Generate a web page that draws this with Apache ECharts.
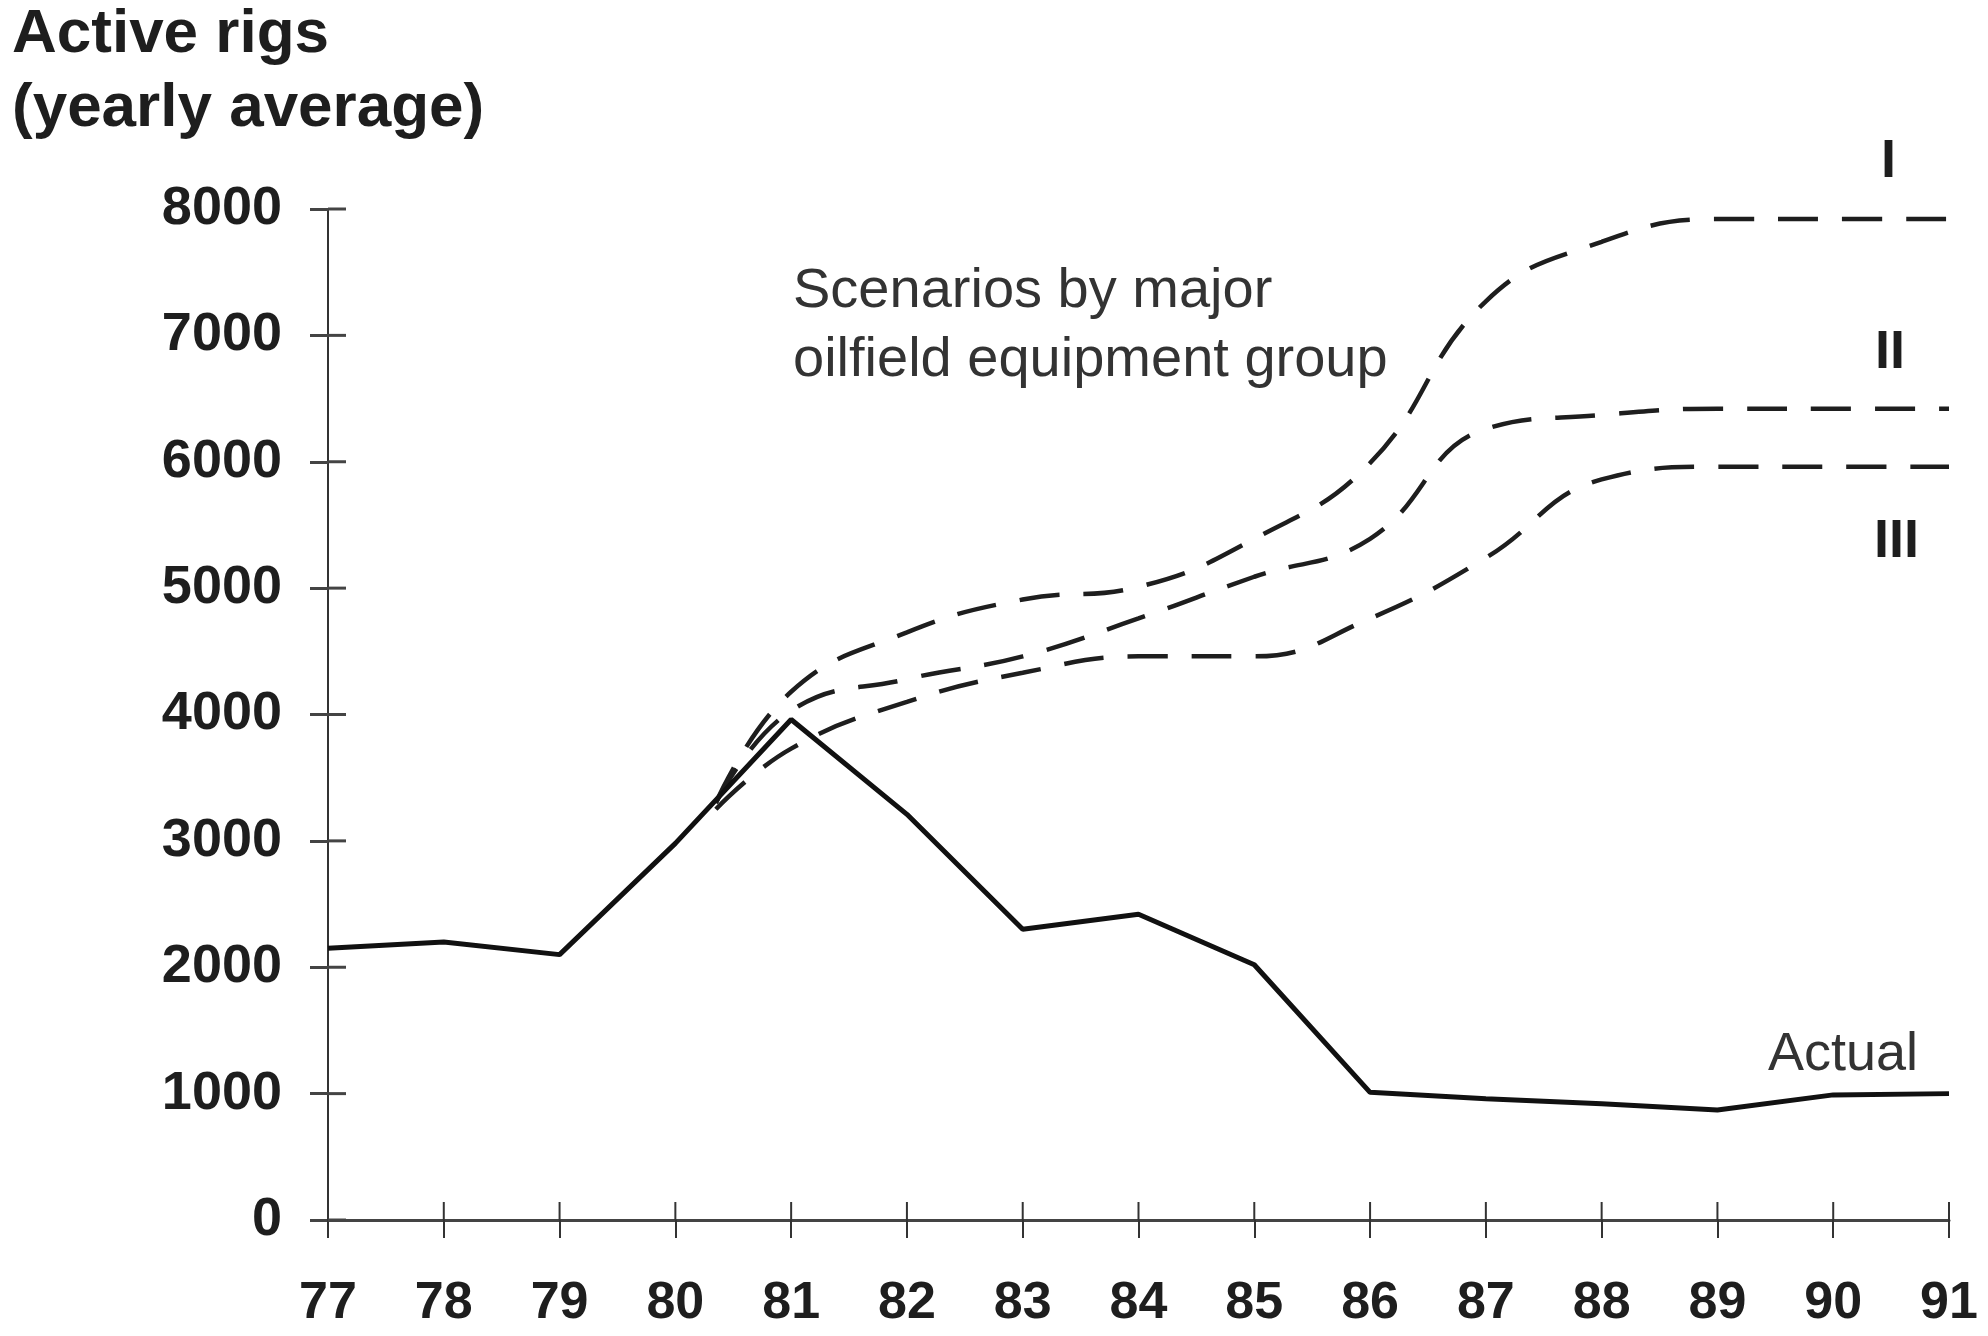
<!DOCTYPE html>
<html>
<head>
<meta charset="utf-8">
<title>Active rigs</title>
<script src="https://cdn.jsdelivr.net/npm/echarts@6/dist/echarts.min.js"></script>
<style>
  html, body { margin: 0; padding: 0; background: #fff; }
  #main { width: 1988px; height: 1336px; }
</style>
</head>
<body>
<div id="main"></div>
<script>
// 年份（横轴）
var years = [77, 78, 79, 80, 81, 82, 83, 84, 85, 86, 87, 88, 89, 90, 91]
// 实际钻机数
var actual = [2150, 2200, 2100, 2980, 3960, 3210, 2300, 2420, 2020, 1010, 960, 920, 870, 990, 1000]

// 三种情景，从 80 年附近的分叉点开始
var scenarioYears = [80.35, 81, 82, 83, 84, 85, 86, 87, 88, 89, 90, 91]
var scenario1 = [3300, 4180, 4650, 4910, 5010, 5390, 5990, 7270, 7740, 7920, 7920, 7920]
var scenario2 = [3300, 4030, 4280, 4460, 4760, 5090, 5390, 6260, 6370, 6420, 6420, 6420]
var scenario3 = [3250, 3730, 4100, 4330, 4460, 4460, 4760, 5240, 5860, 5960, 5960, 5960]

var yTicks = [0, 1000, 2000, 3000, 4000, 5000, 6000, 7000, 8000]

function pairs(xs, ys) {
  return xs.map(function (x, i) { return [x, ys[i]] })
}

var font = 'Liberation Sans, Arial, sans-serif'
var ink = '#1e1e1e'
var tickLen = 18

var myChart = echarts.init(document.getElementById('main'))

// 轴自带的刻度朝外，朝内那一半用 custom 系列补上（位置由坐标轴换算）
function innerTicks(values, dir) {
  return {
    type: 'custom',
    silent: true,
    clip: false,
    z: 3,
    data: values.map(function (v) { return dir === 'x' ? [v, yTicks[0]] : [years[0], v] }),
    renderItem: function (params, api) {
      var p = api.coord([api.value(0), api.value(1)])
      var shape = dir === 'x'
        ? { x1: p[0], y1: p[1], x2: p[0], y2: p[1] - tickLen }
        : { x1: p[0], y1: p[1], x2: p[0] + tickLen, y2: p[1] }
      return {
        type: 'line',
        shape: shape,
        style: { stroke: dir === 'x' ? '#333' : '#444', lineWidth: dir === 'x' ? 2 : 3 }
      }
    }
  }
}

var dashStyle = { color: ink, width: 4.5, type: [40, 24] }

function scenario(name, values) {
  return {
    name: name,
    type: 'line',
    data: pairs(scenarioYears, values),
    smooth: 0.45,
    symbol: 'none',
    lineStyle: dashStyle
  }
}

var option = {
  animation: false,
  backgroundColor: '#fff',
  grid: { left: 328, right: 39, top: 209, bottom: 116 },
  xAxis: {
    type: 'value',
    min: years[0],
    max: years[years.length - 1],
    interval: 1,
    axisLine: { onZero: false, lineStyle: { color: '#444', width: 3 } },
    axisTick: { length: tickLen, lineStyle: { color: '#333', width: 2 } },
    splitLine: { show: false },
    axisLabel: {
      margin: 58,
      color: ink,
      fontFamily: font,
      fontWeight: 'bold',
      fontSize: 52,
      formatter: function (v) { return String(v) }
    }
  },
  yAxis: {
    type: 'value',
    min: yTicks[0],
    max: yTicks[yTicks.length - 1],
    interval: 1000,
    axisLine: { show: true, onZero: false, lineStyle: { color: '#333', width: 2 } },
    axisTick: { show: true, length: tickLen, lineStyle: { color: '#444', width: 3 } },
    splitLine: { show: false },
    axisLabel: {
      margin: 46,
      color: ink,
      fontFamily: font,
      fontWeight: 'bold',
      fontSize: 54,
      formatter: function (v) { return String(v) }
    }
  },
  graphic: [
    { type: 'text', left: 12, top: 4, style: { text: 'Active rigs', font: 'bold 62px ' + font, fill: ink } },
    { type: 'text', left: 12, top: 78, style: { text: '(yearly average)', font: 'bold 62px ' + font, fill: ink } },
    { type: 'text', left: 793, top: 264, style: { text: 'Scenarios by major', font: '56px ' + font, fill: '#333' } },
    { type: 'text', left: 793, top: 333, style: { text: 'oilfield equipment group', font: '56px ' + font, fill: '#333' } },
    { type: 'text', left: 1881, top: 135, style: { text: 'I', font: 'bold 54px ' + font, fill: ink } },
    { type: 'text', left: 1875, top: 326, style: { text: 'II', font: 'bold 54px ' + font, fill: ink } },
    { type: 'text', left: 1874, top: 515, style: { text: 'III', font: 'bold 54px ' + font, fill: ink } },
    { type: 'text', left: 1768, top: 1028, style: { text: 'Actual', font: '54px ' + font, fill: '#333' } }
  ],
  series: [
    innerTicks(years, 'x'),
    innerTicks(yTicks, 'y'),
    scenario('III', scenario3),
    scenario('II', scenario2),
    scenario('I', scenario1),
    {
      name: 'Actual',
      type: 'line',
      data: pairs(years, actual),
      symbol: 'none',
      lineStyle: { color: '#111', width: 5 },
      z: 5
    }
  ]
}

myChart.setOption(option)
</script>
</body>
</html>
